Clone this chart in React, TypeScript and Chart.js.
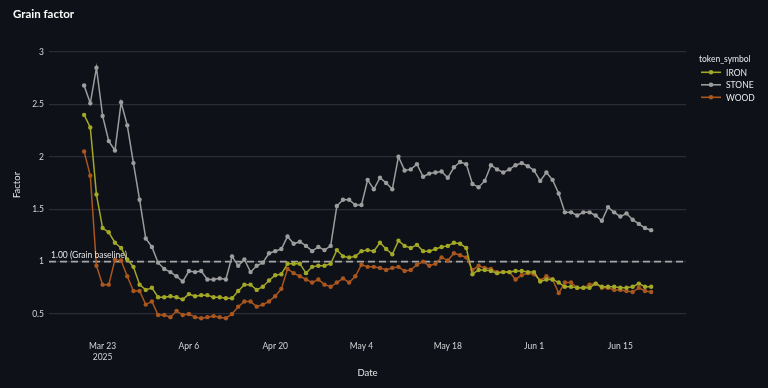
import React, { useEffect, useRef } from 'react';
import { Chart, registerables } from 'chart.js';

Chart.register(...registerables);

// ---- data ----
const START_DATE = '2025-03-20'; // first daily observation
const REF_DATE = '2025-03-23';

const STONE = [
  2.68, 2.51, 2.85, 2.39, 2.15, 2.06, 2.52, 2.3, 1.94, 1.59,
  1.22, 1.14, 0.99, 0.93, 0.9, 0.86, 0.81, 0.91, 0.9, 0.91,
  0.83, 0.83, 0.84, 0.83, 1.05, 0.96, 1.02, 0.9, 0.96, 0.99,
  1.08, 1.1, 1.12, 1.24, 1.17, 1.19, 1.15, 1.1, 1.14, 1.11,
  1.15, 1.53, 1.59, 1.59, 1.54, 1.54, 1.78, 1.69, 1.8, 1.75,
  1.69, 2.0, 1.87, 1.88, 1.93, 1.81, 1.84, 1.85, 1.86, 1.8,
  1.9, 1.95, 1.93, 1.74, 1.71, 1.77, 1.92, 1.88, 1.85, 1.88,
  1.92, 1.94, 1.91, 1.87, 1.77, 1.85, 1.78, 1.65, 1.47, 1.47,
  1.44, 1.47, 1.47, 1.44, 1.39, 1.52, 1.47, 1.43, 1.46, 1.4,
  1.36, 1.32, 1.3,
];

const IRON = [
  2.4, 2.28, 1.64, 1.32, 1.28, 1.18, 1.13, 1.02, 0.95, 0.78,
  0.73, 0.75, 0.66, 0.66, 0.67, 0.66, 0.64, 0.69, 0.67, 0.68,
  0.68, 0.66, 0.66, 0.65, 0.65, 0.72, 0.78, 0.78, 0.73, 0.76,
  0.82, 0.87, 0.88, 0.98, 0.98, 0.98, 0.89, 0.95, 0.96, 0.96,
  0.98, 1.11, 1.05, 1.04, 1.05, 1.1, 1.11, 1.1, 1.18, 1.12,
  1.07, 1.2, 1.15, 1.13, 1.16, 1.1, 1.1, 1.12, 1.14, 1.15,
  1.18, 1.17, 1.13, 0.88, 0.92, 0.92, 0.91, 0.89, 0.9, 0.9,
  0.91, 0.91, 0.9, 0.9, 0.81, 0.83, 0.83, 0.8, 0.76, 0.76,
  0.75, 0.75, 0.75, 0.79, 0.76, 0.76, 0.76, 0.75, 0.75, 0.76,
  0.79, 0.76, 0.76,
];

const WOOD = [
  2.05, 1.82, 0.96, 0.78, 0.78, 1.02, 1.01, 0.86, 0.72, 0.72,
  0.59, 0.62, 0.49, 0.49, 0.47, 0.53, 0.49, 0.5, 0.47, 0.46,
  0.47, 0.48, 0.47, 0.46, 0.5, 0.57, 0.62, 0.62, 0.57, 0.59,
  0.62, 0.67, 0.74, 0.93, 0.89, 0.86, 0.83, 0.8, 0.83, 0.78,
  0.76, 0.8, 0.84, 0.8, 0.86, 0.97, 0.95, 0.95, 0.94, 0.92,
  0.94, 0.95, 0.91, 0.92, 0.97, 1.0, 0.96, 0.98, 1.04, 1.01,
  1.08, 1.06, 1.04, 0.92, 0.96, 0.94, 0.93, 0.9, 0.9, 0.9,
  0.83, 0.87, 0.89, 0.88, 0.82, 0.86, 0.83, 0.7, 0.8, 0.8,
  0.75, 0.75, 0.78, 0.79, 0.75, 0.75, 0.73, 0.73, 0.72, 0.71,
  0.75, 0.72, 0.71,
];

const SERIES_NAMES = ['IRON', 'STONE', 'WOOD'];
const SERIES_VALUES = [IRON, STONE, WOOD];
const SERIES_COLORS = ['#a3a826', '#9d9d9d', '#a9561f'];

const X_TICK_DATES = ['2025-03-23', '2025-04-06', '2025-04-20', '2025-05-04', '2025-05-18', '2025-06-01', '2025-06-15'];
const X_TICK_LABELS: (string | string[])[] = [['Mar 23', '2025'], 'Apr 6', 'Apr 20', 'May 4', 'May 18', 'Jun 1', 'Jun 15'];
const Y_TICKS = [0.5, 1, 1.5, 2, 2.5, 3];
const BASELINE = 1;
const BASELINE_LABEL = '1.00 (Grain baseline)';
const TITLE = 'Grain factor';
const LEGEND_TITLE = 'token_symbol';

const DAY = 86400000;
const dayOffset = (iso: string) => (Date.parse(iso) - Date.parse(REF_DATE)) / DAY;
const START_OFFSET = dayOffset(START_DATE);

const FONT = "Lato, 'Source Sans Pro', 'Noto Sans', sans-serif";
const BG = '#0e1117';

const overlayPlugin = {
  id: 'overlay',
  beforeDatasetsDraw(chart: any) {
    const { ctx, chartArea, scales } = chart;
    const y = scales.y.getPixelForValue(BASELINE);
    ctx.save();
    ctx.setLineDash([7, 4]);
    ctx.strokeStyle = '#a6a6a6';
    ctx.lineWidth = 1.6;
    ctx.beginPath();
    ctx.moveTo(chartArea.left, y);
    ctx.lineTo(chartArea.right, y);
    ctx.stroke();
    ctx.restore();
  },
  afterDraw(chart: any) {
    const { ctx, chartArea, scales } = chart;
    ctx.save();
    // baseline annotation
    const y = scales.y.getPixelForValue(BASELINE);
    ctx.font = `8.5px ${FONT}`;
    ctx.fillStyle = '#e4e4e6';
    ctx.textAlign = 'left';
    ctx.textBaseline = 'middle';
    ctx.fillText(BASELINE_LABEL, chartArea.left + 2, y - 6.5);

    // title
    ctx.font = `bold 11.5px ${FONT}`;
    ctx.fillStyle = '#fafafa';
    ctx.fillText(TITLE, 13, 14);

    // legend
    ctx.font = `8.5px ${FONT}`;
    ctx.fillStyle = '#e8e8ea';
    ctx.fillText(LEGEND_TITLE, 699, 59.5);
    SERIES_NAMES.forEach((name, i) => {
      const ly = 72.3 + i * 12.5;
      ctx.strokeStyle = SERIES_COLORS[i];
      ctx.lineWidth = 1.6;
      ctx.beginPath();
      ctx.moveTo(701, ly);
      ctx.lineTo(721, ly);
      ctx.stroke();
      ctx.fillStyle = SERIES_COLORS[i];
      ctx.beginPath();
      ctx.arc(711, ly, 2.3, 0, Math.PI * 2);
      ctx.fill();
      ctx.fillStyle = '#e8e8ea';
      ctx.fillText(name, 726, ly + 0.5);
    });
    ctx.restore();
  },
};

export default function App() {
  const canvasRef = useRef<HTMLCanvasElement | null>(null);

  useEffect(() => {
    const canvas = canvasRef.current;
    if (!canvas) return;
    const datasets = SERIES_NAMES.map((name, i) => ({
      label: name,
      data: SERIES_VALUES[i].map((v, k) => ({ x: START_OFFSET + k, y: v })),
      borderColor: SERIES_COLORS[i],
      backgroundColor: SERIES_COLORS[i],
      borderWidth: 1.5,
      pointRadius: 2.2,
      pointHoverRadius: 2.2,
      pointBorderWidth: 0,
      tension: 0,
    }));

    const chart = new Chart(canvas, {
      type: 'line',
      data: { datasets },
      plugins: [overlayPlugin],
      options: {
        animation: false,
        responsive: false,
        devicePixelRatio: 1,
        layout: { padding: { left: 0, right: 82, top: 30, bottom: 0 } },
        plugins: {
          legend: { display: false },
          title: { display: false },
          tooltip: { enabled: false },
        },
        scales: {
          x: {
            type: 'linear',
            min: -8.7,
            max: 94.65,
            grid: { display: false, drawTicks: false },
            border: { display: false },
            afterBuildTicks: (axis: any) => {
              axis.ticks = X_TICK_DATES.map((d) => ({ value: dayOffset(d) }));
            },
            afterFit: (axis: any) => {
              axis.height = 48;
            },
            ticks: {
              autoSkip: false,
              maxRotation: 0,
              padding: 1,
              color: '#d3d4d7',
              font: { family: FONT, size: 8.5, lineHeight: 1.25 },
              callback: (value: any) => {
                const idx = X_TICK_DATES.findIndex((d) => Math.abs(dayOffset(d) - value) < 0.01);
                return idx >= 0 ? X_TICK_LABELS[idx] : '';
              },
            },
            title: {
              display: true,
              text: 'Date',
              color: '#e6e6e8',
              font: { family: FONT, size: 9.5 },
              padding: { top: 0, bottom: 9 },
            },
          },
          y: {
            type: 'linear',
            min: 0.252,
            max: 3.21,
            grid: { color: '#2a2d35', lineWidth: 1.2, drawTicks: false },
            border: { display: false },
            afterBuildTicks: (axis: any) => {
              axis.ticks = Y_TICKS.map((v) => ({ value: v }));
            },
            afterFit: (axis: any) => {
              axis.width = 49;
            },
            ticks: {
              padding: 5,
              color: '#d3d4d7',
              font: { family: FONT, size: 8.5 },
              callback: (value: any) => String(value),
            },
            title: {
              display: true,
              text: 'Factor',
              color: '#e6e6e8',
              font: { family: FONT, size: 9.5 },
              padding: { top: 11, bottom: 0 },
            },
          },
        },
      },
    });
    return () => chart.destroy();
  }, []);

  return (
    <div style={{ position: 'fixed', left: 0, top: 0, width: 768, height: 388, background: BG }}>
      <canvas ref={canvasRef} width={768} height={388} style={{ display: 'block', width: 768, height: 388 }} />
    </div>
  );
}
